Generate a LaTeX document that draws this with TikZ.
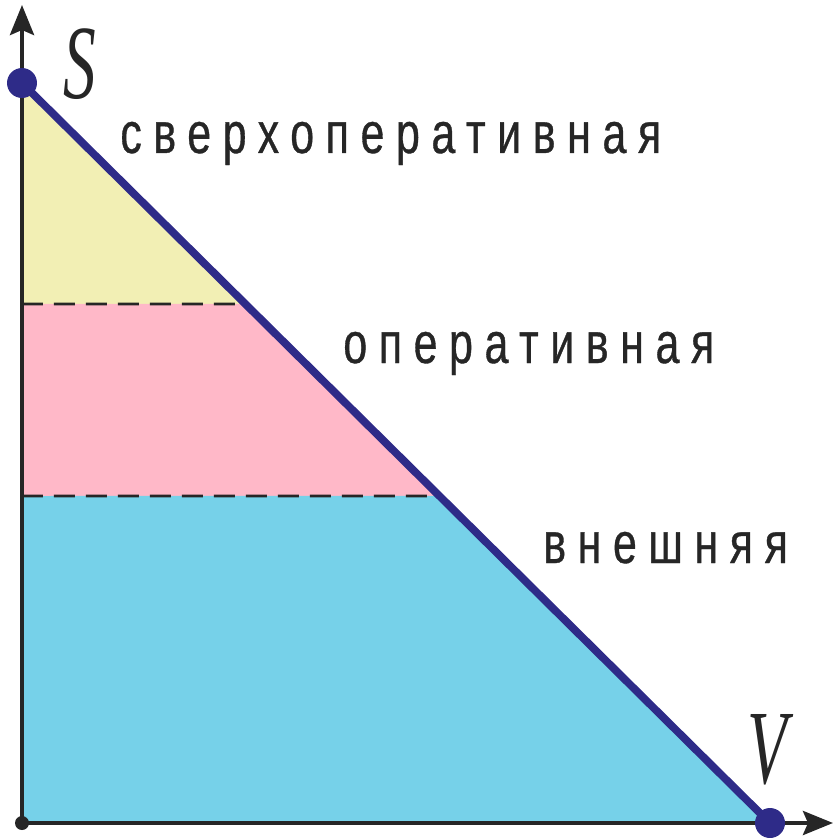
\documentclass[tikz,border=0pt]{standalone}
\usepackage{fontspec}
\newfontfamily\zonefont[FakeStretch=0.74,LetterSpace=20,FakeBold=0.6]{Liberation Sans}
\newfontfamily\varfont[FakeStretch=0.62]{Liberation Serif}
\usepackage{tikz}
\usetikzlibrary{positioning,calc,arrows.meta}

\definecolor{zoneyellow}{HTML}{F2EFB4}
\definecolor{zonepink}{HTML}{FFB8C8}
\definecolor{zoneblue}{HTML}{76D1E9}
\definecolor{bordnavy}{HTML}{2E2B88}

\begin{document}
\begin{tikzpicture}[
    x=0.02cm, y=-0.02cm,
    style={line join=round},
    axis/.style={line width=2.4pt, draw=black!85, -{Stealth[length=6mm,width=4.8mm,inset=1mm]}},
    border/.style={line width=4.4pt, draw=bordnavy},
    divider/.style={line width=1.6pt, draw=black!85, dash pattern=on 0.42cm off 0.22cm},
    zone/.style={font=\zonefont\fontsize{33}{35}\selectfont, text=black!85, anchor=base west, inner sep=0pt},
    var/.style={font=\varfont\itshape\fontsize{60}{64}\selectfont, text=black!85, anchor=base west, inner sep=0pt},
    endpt/.style={circle, fill=bordnavy, inner sep=0pt, minimum size=0.6cm}
]
\useasboundingbox (0,0) rectangle (832,838);

  % corner points
  \coordinate (O) at (22,823);
  \coordinate (S) at (22,83);
  \coordinate (V) at (770,823);
  \coordinate (ytop) at (22,5);
  \coordinate (xend) at (833,823);
  \coordinate (a1) at (22,304);
  \coordinate (a2) at ($(S)!0.2986!(V)$);
  \coordinate (b1) at (22,496);
  \coordinate (b2) at ($(S)!0.558!(V)$);

  % zones
  \fill[zoneyellow] (S) -- (a2) -- (a1) -- cycle;
  \fill[zonepink] (a1) -- (a2) -- (b2) -- (b1) -- cycle;
  \fill[zoneblue] (b1) -- (b2) -- (V) -- (O) -- cycle;
\draw[divider] (a1) -- (a2);
\draw[divider] (b1) -- (b2);

  % axes
  \draw[axis] (O) -- (ytop);
  \draw[axis] (O) -- (xend);
  \fill[black!85] (O) circle (7);

  % boundary
  \draw[border] (S) -- (V);
  \node[endpt] (Sdot) at (S) {};
  \node[endpt] (Vdot) at (V) {};
\node[var] (Slab) at (63,98) {S};
\node[var] (Vlab) at (747,783) {V};

  % labels
\node[zone] (top) at (120,153) {сверхоперативная};
\node[zone] (mid) at (343,363) {оперативная};
\node[zone] (low) at (543,563) {внешняя};
\end{tikzpicture}
\end{document}
